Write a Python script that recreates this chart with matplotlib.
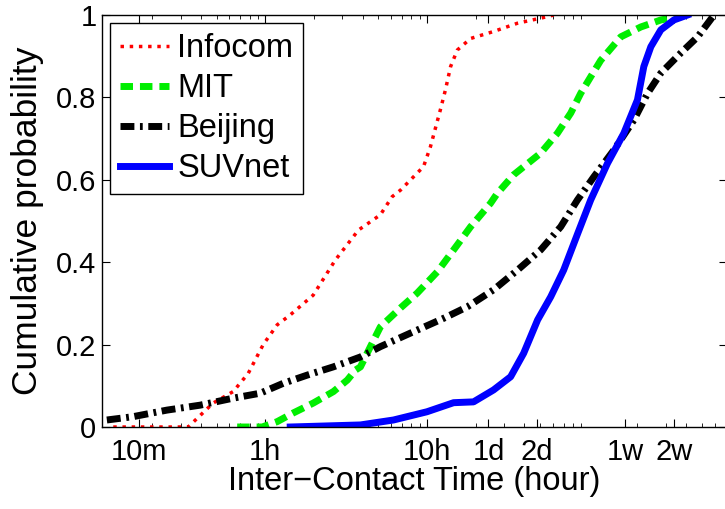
import matplotlib
matplotlib.use('Agg')
import matplotlib.pyplot as plt
from matplotlib.ticker import FixedLocator, LogLocator, NullFormatter

plt.rcParams['font.family'] = ['Liberation Sans', 'DejaVu Sans']

# data (x in hours)
infocom_x = [0.115, 0.334, 0.476, 0.634, 0.785, 0.972, 1.186, 1.428, 1.98, 2.71, 3.77,
             5.15, 6.09, 6.86, 9.52, 10.5, 12.1, 13.0, 14.0, 15.4, 18.6, 25.8, 36.2, 55.5, 60.7]
infocom_y = [0, 0, 0.058, 0.086, 0.13, 0.2, 0.248, 0.272, 0.32, 0.405, 0.478,
             0.515, 0.559, 0.575, 0.632, 0.68, 0.77, 0.818, 0.875, 0.915, 0.943, 0.96, 0.98, 0.996, 1.0]

mit_x = [0.671, 0.958, 1.186, 1.49, 1.98, 2.64, 3.22, 3.61, 3.88, 4.47, 5.15, 6.86, 8.70,
         11.6, 15.4, 18.6, 24.7, 27.2, 34.3, 50.5, 64.0, 77.4, 89.2, 102.8, 118.6, 157.8,
         210, 279, 354, 416]
mit_y = [0, 0, 0.013, 0.034, 0.058, 0.086, 0.114, 0.138, 0.146, 0.195, 0.243, 0.289, 0.325,
         0.377, 0.442, 0.486, 0.543, 0.567, 0.612, 0.665, 0.713, 0.762, 0.81, 0.85, 0.89, 0.947,
         0.971, 0.988, 0.996, 1.0]

beijing_x = [0.105, 0.152, 0.247, 0.396, 0.634, 0.931, 1.292, 1.82, 2.64, 3.88, 5.15, 7.91,
             12.7, 17.8, 25.8, 36.3, 50.5, 67.1, 85.1, 107.4, 142.8, 190, 231, 279, 371, 471,
             569, 594]
beijing_y = [0.017, 0.025, 0.041, 0.053, 0.07, 0.082, 0.106, 0.126, 0.146, 0.17, 0.195, 0.228,
             0.264, 0.292, 0.333, 0.381, 0.43, 0.486, 0.551, 0.607, 0.672, 0.745, 0.81, 0.859,
             0.908, 0.947, 0.99, 1.0]

suvnet_x = [1.428, 3.88, 6.21, 10.0, 14.6, 19.4, 25.8, 32.9, 39.6, 48.3, 58.2, 70.0, 85.5,
            102.8, 130.6, 164.8, 200, 219, 242, 279, 336, 408]
suvnet_y = [0, 0.005, 0.017, 0.037, 0.059, 0.061, 0.09, 0.122, 0.179, 0.26, 0.316, 0.381, 0.47,
            0.551, 0.64, 0.713, 0.794, 0.875, 0.923, 0.964, 0.988, 1.0]

tick_pos = [1 / 6, 1, 10, 24, 48, 168, 336]
tick_lab = ['10m', '1h', '10h', '1d', '2d', '1w', '2w']
y_ticks = [0, 0.2, 0.4, 0.6, 0.8, 1]
y_labels = ['0', '0.2', '0.4', '0.6', '0.8', '1']

fig = plt.figure(figsize=(7.25, 5.09), dpi=100)
ax = fig.add_axes([0.1407, 0.1611, 0.862, 0.8094])

ax.plot(infocom_x, infocom_y, color='red', linestyle=':', linewidth=2.5, label='Infocom')
ax.plot(mit_x, mit_y, color='#00ee00', linestyle='--', linewidth=5, dashes=(1.8, 1.0), label='MIT')
ax.plot(beijing_x, beijing_y, color='black', linestyle='-.', linewidth=5,
        dashes=(2.0, 0.8, 0.4, 0.8), label='Beijing')
ax.plot(suvnet_x, suvnet_y, color='blue', linestyle='-', linewidth=5, label='SUVnet')

ax.set_xscale('log')
ax.set_xlim(0.098, 715)
ax.set_ylim(0, 1)
ax.xaxis.set_major_locator(FixedLocator(tick_pos))
ax.set_xticklabels(tick_lab)
ax.xaxis.set_minor_locator(LogLocator(base=10, subs=range(2, 10)))
ax.xaxis.set_minor_formatter(NullFormatter())
ax.set_yticks(y_ticks)
ax.set_yticklabels(y_labels)

ax.tick_params(which='both', direction='in', top=True, right=True, labelsize=21)
ax.tick_params(axis='x', pad=8)
ax.tick_params(axis='y', pad=4)
ax.tick_params(which='major', length=6)
ax.tick_params(which='minor', length=3)
for s in ax.spines.values():
    s.set_linewidth(1)

ax.set_xlabel('Inter\u2212Contact Time (hour)', fontsize=23.5, labelpad=0)
ax.set_ylabel('Cumulative probability', fontsize=25.5, labelpad=2)
ax.yaxis.set_label_coords(-0.093, 0.5)

leg = ax.legend(loc='upper left', fontsize=23.5, frameon=True, fancybox=False,
                edgecolor='black', framealpha=1, handlelength=1.5, handletextpad=0.25,
                borderpad=0.3, labelspacing=0.28, borderaxespad=0.25)
leg.get_frame().set_linewidth(1)

fig.savefig('out.png', dpi=100)
